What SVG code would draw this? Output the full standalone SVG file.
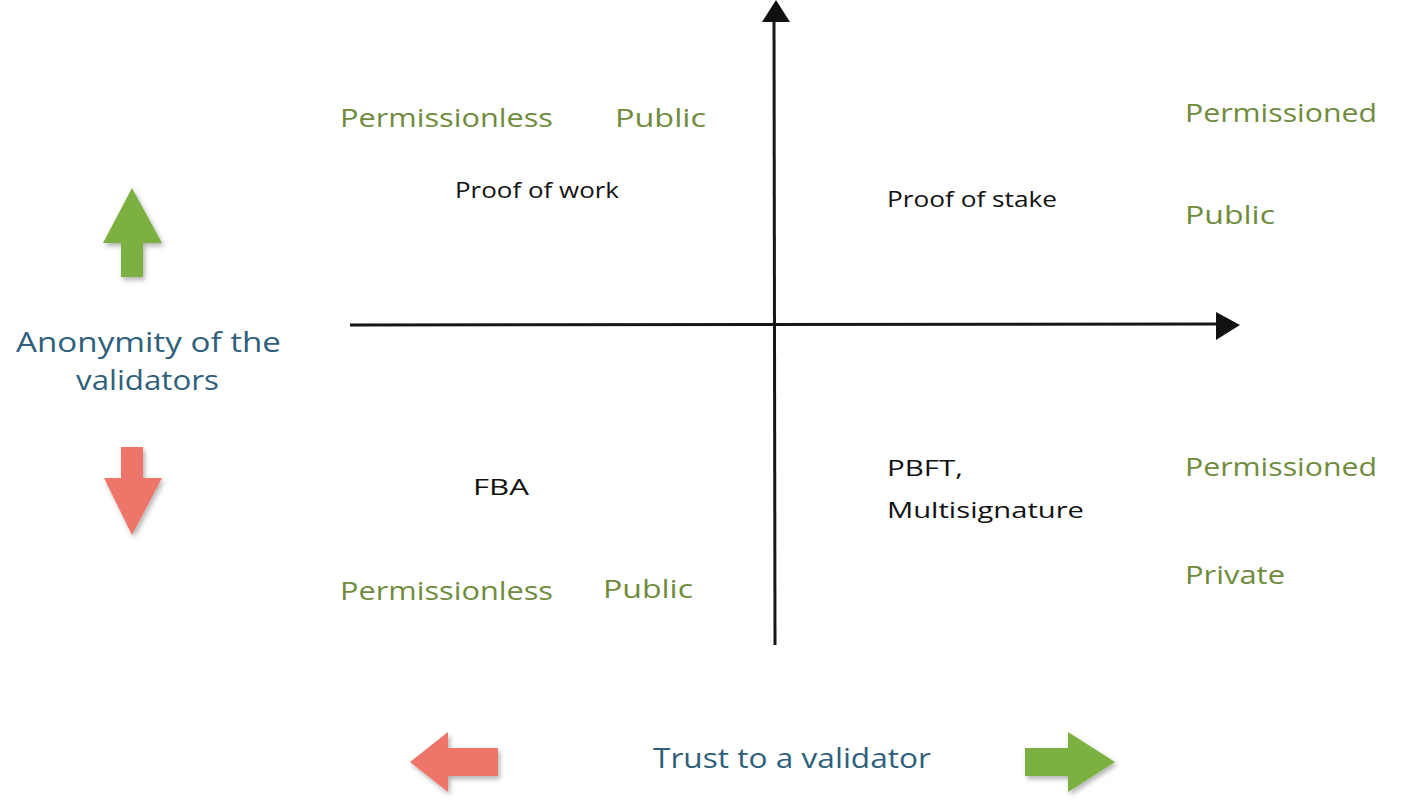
<svg xmlns="http://www.w3.org/2000/svg" width="1409" height="803" viewBox="0 0 1409 803">
<style>
.g{font-family:"Open Sans","Noto Sans",sans-serif;fill:#6f8c3c;font-size:25px}
.k{font-family:"Open Sans","Noto Sans",sans-serif;fill:#111;font-size:22px}
.b{font-family:"Open Sans","Noto Sans",sans-serif;fill:#2f5f7c;font-size:27px}
.axis{stroke:#161616;stroke-width:3;fill:none}
.ga{fill:#7bb142}
.ra{fill:#ee746a}
</style>
<defs>
<filter id="sh" x="-30%" y="-30%" width="160%" height="160%">
<feDropShadow dx="2" dy="3" stdDeviation="2.5" flood-color="#000" flood-opacity="0.3"/>
</filter>
</defs>
<rect width="1409" height="803" fill="#fff"/>
<g id="connectors">
<line class="axis" x1="774" y1="20" x2="775" y2="645"/>
<polygon points="776,0 762,22 790,22" fill="#111"/>
<line class="axis" x1="350" y1="325" x2="1218" y2="324"/>
<polygon points="1240,325 1216,312 1216,340" fill="#111"/>
</g>
<g id="arrow-up" filter="url(#sh)"><polygon class="ga" points="132,188 162,243 143,243 143,277 121,277 121,243 103,243"/></g>
<g id="arrow-down" filter="url(#sh)"><polygon class="ra" points="121,447 143,447 143,478 162,478 132,535 104,478 121,478"/></g>
<g id="arrow-left" filter="url(#sh)"><polygon class="ra" points="410,762 448,732 448,748 498,748 498,776 448,776 448,792"/></g>
<g id="arrow-right" filter="url(#sh)"><polygon class="ga" points="1115,762 1068,732 1068,748 1025,748 1025,776 1068,776 1068,792"/></g>
<g id="label-anonymity">
<text class="b" x="16" y="352" textLength="265" lengthAdjust="spacingAndGlyphs">Anonymity of the</text>
<text class="b" x="76" y="390" textLength="143" lengthAdjust="spacingAndGlyphs">validators</text>
</g>
<g id="label-trust"><text class="b" x="653" y="768" textLength="278" lengthAdjust="spacingAndGlyphs">Trust to a validator</text></g>
<g id="q1-tags">
<text class="g" x="340" y="127" textLength="213" lengthAdjust="spacingAndGlyphs">Permissionless</text>
<text class="g" x="615" y="127" textLength="91" lengthAdjust="spacingAndGlyphs">Public</text>
</g>
<g id="q1-pow"><text class="k" x="455" y="198" textLength="164" lengthAdjust="spacingAndGlyphs">Proof of work</text></g>
<g id="q2-pos"><text class="k" x="887" y="207" textLength="170" lengthAdjust="spacingAndGlyphs">Proof of stake</text></g>
<g id="q2-tags">
<text class="g" x="1185" y="122" textLength="192" lengthAdjust="spacingAndGlyphs">Permissioned</text>
<text class="g" x="1185" y="224" textLength="90" lengthAdjust="spacingAndGlyphs">Public</text>
</g>
<g id="q3-fba"><text class="k" x="473" y="495" textLength="56" lengthAdjust="spacingAndGlyphs">FBA</text></g>
<g id="q3-tags">
<text class="g" x="340" y="600" textLength="213" lengthAdjust="spacingAndGlyphs">Permissionless</text>
<text class="g" x="603" y="598" textLength="90" lengthAdjust="spacingAndGlyphs">Public</text>
</g>
<g id="q4-pbft">
<text class="k" x="887" y="476" textLength="76" lengthAdjust="spacingAndGlyphs">PBFT,</text>
<text class="k" x="887" y="518" textLength="197" lengthAdjust="spacingAndGlyphs">Multisignature</text>
</g>
<g id="q4-tags">
<text class="g" x="1185" y="476" textLength="192" lengthAdjust="spacingAndGlyphs">Permissioned</text>
<text class="g" x="1185" y="584" textLength="100" lengthAdjust="spacingAndGlyphs">Private</text>
</g>
</svg>
